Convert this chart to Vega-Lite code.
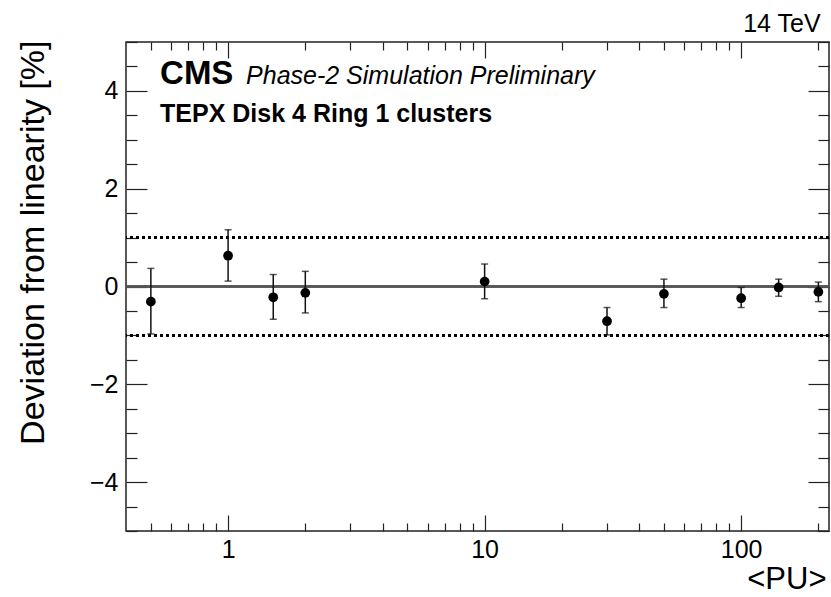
{
  "$schema": "https://vega.github.io/schema/vega-lite/v6.json",
  "autosize": {"type": "none"},
  "padding": {"left": 126, "top": 42, "right": 2, "bottom": 66},
  "width": 703,
  "height": 489,
  "background": "white",
  "config": {
    "view": {"stroke": "#222", "strokeWidth": 1.5},
    "font": "Liberation Sans",
    "axis": {
      "domain": false,
      "grid": false,
      "tickColor": "#222",
      "tickWidth": 1.2,
      "labelFont": "Liberation Sans",
      "labelFontSize": 25,
      "labelColor": "#000",
      "titleFont": "Liberation Sans",
      "titleFontWeight": "normal",
      "titleColor": "#000"
    }
  },
  "data": {
    "values": [
      {"pu": 0.5, "dev": -0.31, "lo": -0.97, "hi": 0.37},
      {"pu": 1, "dev": 0.63, "lo": 0.11, "hi": 1.16},
      {"pu": 1.5, "dev": -0.22, "lo": -0.67, "hi": 0.245},
      {"pu": 2, "dev": -0.13, "lo": -0.54, "hi": 0.31},
      {"pu": 10, "dev": 0.1, "lo": -0.25, "hi": 0.46},
      {"pu": 30, "dev": -0.71, "lo": -0.99, "hi": -0.43},
      {"pu": 50, "dev": -0.15, "lo": -0.43, "hi": 0.15},
      {"pu": 100, "dev": -0.24, "lo": -0.43, "hi": -0.02},
      {"pu": 140, "dev": -0.02, "lo": -0.2, "hi": 0.15},
      {"pu": 200, "dev": -0.11, "lo": -0.31, "hi": 0.09}
    ]
  },
  "resolve": {"scale": {"x": "shared", "y": "shared"}, "axis": {"x": "independent", "y": "independent"}},
  "layer": [
    {
      "mark": {"type": "rule", "color": "#555", "strokeWidth": 1.6},
      "encoding": {"y": {"datum": 0, "type": "quantitative", "scale": {"domain": [-5, 5], "nice": false, "zero": false}, "axis": null}}
    },
    {
      "mark": {"type": "rule", "color": "#000", "strokeWidth": 2, "strokeDash": [3, 3]},
      "encoding": {"y": {"datum": 1, "type": "quantitative", "axis": null}}
    },
    {
      "mark": {"type": "rule", "color": "#000", "strokeWidth": 2, "strokeDash": [3, 3]},
      "encoding": {"y": {"datum": -1, "type": "quantitative", "axis": null}}
    },
    {
      "mark": {"type": "rule", "color": "#111", "strokeWidth": 1.5},
      "encoding": {
        "x": {"field": "pu", "type": "quantitative", "scale": {"type": "log", "domain": [0.4, 220], "nice": false},
          "axis": {"orient": "bottom", "values": [0.5,0.6,0.7,0.8,0.9,2,3,4,5,6,7,8,9,20,30,40,50,60,70,80,90,200], "tickSize": -8, "labels": false, "title": null}},
        "y": {"field": "lo", "type": "quantitative", "scale": {"domain": [-5, 5], "nice": false, "zero": false},
          "axis": {"orient": "left", "values": [-5,-4.5,-3.5,-3,-2.5,-1.5,-1,-0.5,0.5,1,1.5,2.5,3,3.5,4.5,5], "tickSize": -11, "labels": false, "title": null}},
        "y2": {"field": "hi"}
      }
    },
    {
      "mark": {"type": "tick", "orient": "horizontal", "color": "#111", "size": 7, "thickness": 1.5},
      "encoding": {
        "x": {"field": "pu", "type": "quantitative", "scale": {"type": "log", "domain": [0.4, 220], "nice": false},
          "axis": {"orient": "top", "values": [1, 10, 100], "tickSize": -16, "labels": false, "title": null}},
        "y": {"field": "hi", "type": "quantitative", "scale": {"domain": [-5, 5], "nice": false, "zero": false},
          "axis": {"orient": "right", "values": [-4, -2, 0, 2, 4], "tickSize": -21, "labels": false, "title": null}}
      }
    },
    {
      "mark": {"type": "tick", "orient": "horizontal", "color": "#111", "size": 7, "thickness": 1.5},
      "encoding": {
        "x": {"field": "pu", "type": "quantitative", "scale": {"type": "log", "domain": [0.4, 220], "nice": false},
          "axis": {"orient": "top", "values": [0.5,0.6,0.7,0.8,0.9,2,3,4,5,6,7,8,9,20,30,40,50,60,70,80,90,200], "tickSize": -8, "labels": false, "title": null}},
        "y": {"field": "lo", "type": "quantitative", "scale": {"domain": [-5, 5], "nice": false, "zero": false},
          "axis": {"orient": "right", "values": [-5,-4.5,-3.5,-3,-2.5,-1.5,-1,-0.5,0.5,1,1.5,2.5,3,3.5,4.5,5], "tickSize": -11, "labels": false, "title": null}}
      }
    },
    {
      "mark": {"type": "point", "filled": true, "color": "#000", "opacity": 1, "size": 95, "shape": "circle"},
      "encoding": {
        "x": {"field": "pu", "type": "quantitative", "scale": {"type": "log", "domain": [0.4, 220], "nice": false},
          "axis": {"orient": "bottom", "values": [1, 10, 100], "tickSize": -16, "labelPadding": 22, "format": "d",
            "title": "<PU>", "titleFontSize": 31, "titleAlign": "right", "titleBaseline": "alphabetic", "titleX": 700, "titleY": 57, "titleAnchor": "end"}},
        "y": {"field": "dev", "type": "quantitative", "scale": {"domain": [-5, 5], "nice": false, "zero": false},
          "axis": {"orient": "left", "values": [-4, -2, 0, 2, 4], "tickSize": -21, "labelPadding": 29, "format": "d",
            "title": "Deviation from linearity [%]", "titleFontSize": 34, "titleAngle": -90, "titleAlign": "right", "titleBaseline": "alphabetic", "titleX": -83, "titleY": -2, "titleAnchor": "end"}}
      }
    },
    {
      "data": {"values": [{}]},
      "mark": {"type": "text", "text": "CMS", "font": "Liberation Sans", "fontWeight": "bold", "fontSize": 33, "align": "left", "baseline": "alphabetic", "color": "#000"},
      "encoding": {"x": {"datum": 0.543, "type": "quantitative", "axis": null}, "y": {"datum": 4.14, "type": "quantitative", "axis": null}}
    },
    {
      "data": {"values": [{}]},
      "mark": {"type": "text", "text": "Phase-2 Simulation Preliminary", "font": "Liberation Sans", "fontStyle": "italic", "fontSize": 25, "align": "left", "baseline": "alphabetic", "color": "#000"},
      "encoding": {"x": {"datum": 1.175, "type": "quantitative", "axis": null}, "y": {"datum": 4.14, "type": "quantitative", "axis": null}}
    },
    {
      "data": {"values": [{}]},
      "mark": {"type": "text", "text": "TEPX Disk 4 Ring 1 clusters", "font": "Liberation Sans", "fontWeight": "bold", "fontSize": 25, "align": "left", "baseline": "alphabetic", "color": "#000"},
      "encoding": {"x": {"datum": 0.543, "type": "quantitative", "axis": null}, "y": {"datum": 3.37, "type": "quantitative", "axis": null}}
    },
    {
      "data": {"values": [{}]},
      "mark": {"type": "text", "text": "14 TeV", "font": "Liberation Sans", "fontSize": 25, "align": "right", "baseline": "alphabetic", "color": "#000"},
      "encoding": {"x": {"datum": 204, "type": "quantitative", "axis": null}, "y": {"datum": 5.2, "type": "quantitative", "axis": null}}
    }
  ]
}
